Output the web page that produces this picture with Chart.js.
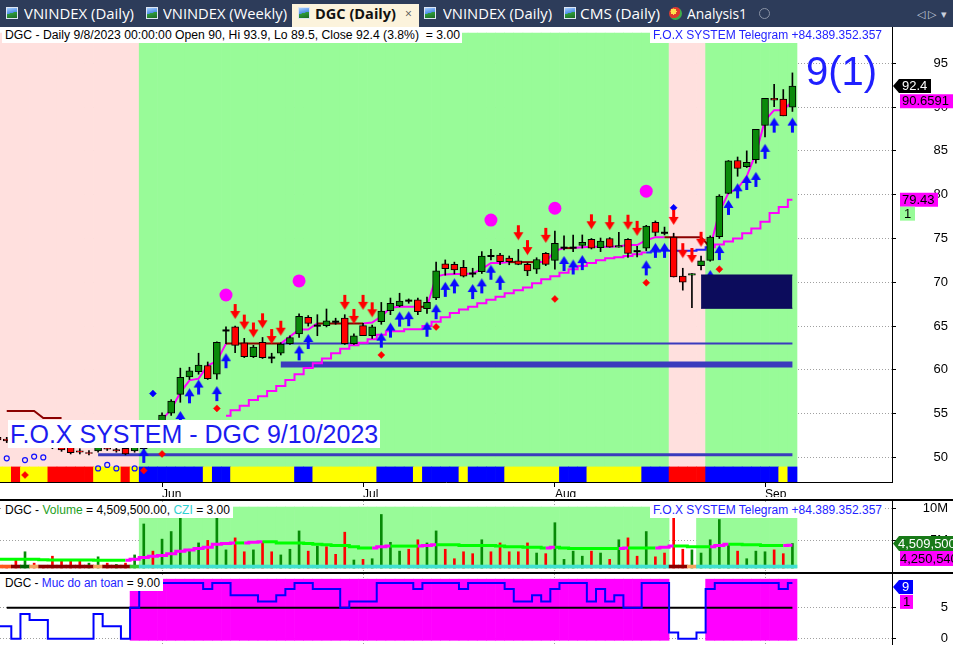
<!DOCTYPE html>
<html lang="en"><head><meta charset="utf-8"><title>DGC (Daily)</title>
<script src="https://cdn.jsdelivr.net/npm/chart.js@4.4.1/dist/chart.umd.min.js"></script>
<style>
html,body{margin:0;padding:0;}
body{width:953px;height:645px;overflow:hidden;background:#fff;position:relative;font-family:"Liberation Sans",Arial,sans-serif;}
#tabbar{position:absolute;left:0;top:0;width:953px;height:27px;background:#2d3c5a;}
.tab{position:absolute;top:5px;height:18px;line-height:18px;color:#fff;font-size:14px;font-family:"Open Sans","Liberation Sans",Arial,sans-serif;white-space:nowrap;}
.ico{position:absolute;top:7px;width:12px;height:12px;box-sizing:border-box;border:1px solid #dde6f3;background:linear-gradient(165deg,#a8d0ff 0%,#4d8ee8 48%,#2e9b3b 50%,#1c6a24 100%);}
#active{position:absolute;left:292px;top:4px;width:127px;height:23px;background:#fcf3dc;}
.box{position:absolute;white-space:nowrap;background:#fff;font-size:12px;line-height:15px;height:15px;box-sizing:border-box;padding-left:3px;}
.fit{display:inline-block;transform-origin:0 50%;}
canvas{position:absolute;left:0;}
.sep{position:absolute;left:0;width:953px;height:2px;background:#000;}
</style></head><body>
<div id="tabbar">
 <div class="ico" style="left:6px"></div><div class="tab" style="left:24px"><span class="fit" data-w="110">VNINDEX (Daily)</span></div>
 <div class="ico" style="left:146px"></div><div class="tab" style="left:163px"><span class="fit" data-w="124">VNINDEX (Weekly)</span></div>
 <div id="active"></div>
 <div class="ico" style="left:298px"></div><div class="tab" style="left:315px;color:#111;font-weight:bold"><span class="fit" data-w="81">DGC (Daily)</span></div>
 <div class="tab" style="left:405px;color:#555;font-size:12px">×</div>
 <div class="ico" style="left:424px"></div><div class="tab" style="left:443px"><span class="fit" data-w="109">VNINDEX (Daily)</span></div>
 <div class="ico" style="left:564px"></div><div class="tab" style="left:580px"><span class="fit" data-w="80">CMS (Daily)</span></div>
 <div style="position:absolute;left:669px;top:7px;width:13px;height:13px;border-radius:50%;background:radial-gradient(circle at 35% 35%,#ffe14d 0 25%,#e03a2f 26% 55%,#3fae49 56%)"></div>
 <div class="tab" style="left:687px"><span class="fit" data-w="60">Analysis1</span></div>
 <div style="position:absolute;left:759px;top:8px;width:9px;height:9px;border:1.5px solid #8a93a5;border-radius:50%"></div>
 <div class="tab" style="left:917px;color:#c8cfdc;font-size:11px">◁ ▷</div>
 <div class="tab" style="left:941px;color:#c8cfdc;font-size:11px">▾</div>
</div>

<canvas id="cMain" width="953" height="470" style="top:27px"></canvas>
<div class="sep" style="top:499px"></div>
<canvas id="cVol" width="953" height="71" style="top:501px"></canvas>
<div class="sep" style="top:572px"></div>
<canvas id="cSafe" width="953" height="71" style="top:574px"></canvas>

<div class="box" style="left:2px;top:28px;width:460px"><span class="fit" id="tMain" data-w="455"></span></div>
<div class="box" style="left:650px;top:28px;width:235px;color:#2323ff"><span class="fit" data-w="229">F.O.X SYSTEM Telegram +84.389.352.357</span></div>
<div id="bigNum" style="position:absolute;left:806px;top:51px;font-size:40px;line-height:40px;color:#1f1fff;white-space:nowrap"></div>
<div class="box" style="left:8px;top:420px;width:372px;height:28px;line-height:28px;font-size:25px;color:#1c1cf0;padding-left:2px">F.O.X SYSTEM - DGC 9/10/2023</div>
<div class="box" style="left:2px;top:503px;width:231px"><span class="fit" id="tVol" data-w="225"></span></div>
<div class="box" style="left:650px;top:503px;width:235px;color:#2323ff"><span class="fit" data-w="229">F.O.X SYSTEM Telegram +84.389.352.357</span></div>
<div class="box" style="left:2px;top:576px;width:161px"><span class="fit" id="tSafe" data-w="155"></span></div>

<script>
// ---------------- DATA ----------------
const dates = [
'2023-05-08','2023-05-09','2023-05-10','2023-05-11','2023-05-12','2023-05-15','2023-05-16','2023-05-17','2023-05-18','2023-05-19','2023-05-22','2023-05-23','2023-05-24','2023-05-25','2023-05-26','2023-05-29','2023-05-30','2023-05-31',
'2023-06-01','2023-06-02','2023-06-05','2023-06-06','2023-06-07','2023-06-08','2023-06-09','2023-06-12','2023-06-13','2023-06-14','2023-06-15','2023-06-16','2023-06-19','2023-06-20','2023-06-21','2023-06-22','2023-06-23','2023-06-26','2023-06-27','2023-06-28','2023-06-29','2023-06-30',
'2023-07-03','2023-07-04','2023-07-05','2023-07-06','2023-07-07','2023-07-10','2023-07-11','2023-07-12','2023-07-13','2023-07-14','2023-07-17','2023-07-18','2023-07-19','2023-07-20','2023-07-21','2023-07-24','2023-07-25','2023-07-26','2023-07-27','2023-07-28','2023-07-31',
'2023-08-01','2023-08-02','2023-08-03','2023-08-04','2023-08-07','2023-08-08','2023-08-09','2023-08-10','2023-08-11','2023-08-14','2023-08-15','2023-08-16','2023-08-17','2023-08-18','2023-08-21','2023-08-22','2023-08-23','2023-08-24','2023-08-25','2023-08-28','2023-08-29','2023-08-30','2023-08-31',
'2023-09-05','2023-09-06','2023-09-07','2023-09-08'];

const opens = [52.3,52.1,51.9,51.6,52.2,51.8,51.6,51.5,51.2,50.75, 50.55,50.75,51.05,50.9,51.05,50.75,51.0,52.3,53.2,55.05,
 57.2,59.2,59.8,60.5,59.5,64.5,64.9,63.1,61.5,63.15, 61.4,61.9,63.0,64.1,66.0,65.05,65.05,65.5,65.9,63.0,
 65.05,63.9,65.5,66.75,67.3,67.9,68.0,67.0,68.2,72.1, 72.05,71.7,71.0,71.2,73.0,73.1,72.75,72.45,72.05,71.5,
 73.3,72.5,73.95,73.95,74.2,74.9,73.95,75.0,74.0,74.9, 73.55,73.9,76.85,75.65,75.15,70.7,70.8,71.9,72.5,75.2,
 80.15,83.9,83.2,84.0,87.9,91.0,90.9,90.0];
const highs = [52.5,52.3,52.4,52.6,52.4,52.0,51.8,51.7,51.4,51.0, 50.8,51.4,51.3,51.1,51.2,51.4,51.6,52.6,55.1,56.6,
 60.2,60.3,61.9,60.9,63.2,64.9,65.0,63.6,62.8,63.7, 61.9,63.1,63.9,66.4,66.2,66.3,66.95,65.9,66.3,64.1,
 65.3,65.1,67.7,68.2,68.75,68.1,68.2,68.3,72.3,72.55, 72.3,72.5,71.6,73.5,73.75,73.3,73.0,73.75,72.2,72.8,
 73.4,75.85,75.3,75.4,75.4,75.0,75.05,75.1,75.7,75.0, 74.1,76.5,77.0,76.3,75.6,71.6,71.0,73.0,75.3,80.0,
 83.9,84.3,85.0,87.45,91.0,92.6,92.0,93.9];
const lows = [51.8,51.7,51.5,51.5,51.6,51.3,51.0,50.7,50.4,50.4, 50.3,50.6,50.8,50.6,50.3,50.6,49.5,51.4,52.9,54.8,
 56.3,58.9,59.5,58.9,58.95,63.0,61.96,61.4,61.4,61.3, 60.8,61.7,62.9,63.7,65.0,63.9,64.9,65.2,62.9,62.9,
 63.9,63.6,65.2,66.3,67.2,67.6,66.3,66.45,68.0,70.8, 70.95,70.6,70.6,71.0,72.55,72.0,72.0,72.0,70.75,71.0,
 71.9,71.5,73.7,73.5,73.9,73.8,73.5,74.0,74.0,72.85, 72.9,73.6,75.3,75.4,70.6,69.1,67.1,71.4,72.4,75.0,
 80.1,82.1,83.1,83.6,86.6,90.05,89.0,89.5];
const closes = [52.0,51.9,51.7,52.3,51.8,51.5,51.2,50.85,50.55,50.6, 50.45,51.2,50.95,50.75,50.4,51.2,51.4,51.8,54.85,56.45,
 59.15,59.9,60.55,59.0,63.15,64.5,62.8,61.5,62.6,61.4, 61.4,62.95,63.7,66.1,65.3,65.05,65.6,65.5,63.0,63.9,
 63.9,64.9,66.7,67.6,67.85,67.9,66.65,67.7,71.3,71.55, 71.4,70.7,71.0,73.0,73.0,72.35,72.35,72.05,71.3,72.6,
 72.05,74.45,73.95,73.95,74.55,73.9,74.7,74.0,74.2,73.3, 73.55,76.4,75.7,75.65,70.6,70.0,71.0,72.45,75.15,79.85,
 83.85,83.0,83.7,87.45,91.0,90.8,89.0,92.4];

// fast trailing line (magenta / brown) and slow staircase stop
const trail = [null,55.3,55.3,55.3,55.3,54.5,54.5,54.5,null,null, null,null,null,null,null,null,null,null,54.3,55.5,
 57.4,58.8,59.0,60.5,61.0,63.0,63.0,63.0,63.0,63.0, 63.0,63.0,63.8,64.6,64.6,65.3,65.3,65.3,65.3,65.3,
 65.3,65.4,66.1,67.1,67.2,67.2,67.2,67.2,70.65,70.9, 70.95,70.95,71.0,71.5,72.2,72.2,72.3,72.3,72.3,72.3,
 72.3,73.6,73.9,73.9,74.0,74.05,74.05,74.05,74.1,74.25, 74.25,74.8,75.15,75.15,75.15,75.15,75.15,75.15,74.0,78.0,
 80.2,80.7,82.1,84.7,88.5,89.65,89.65,90.6591];
const trailStateRuns = [['b',8],['m',17],['b',6],['m',4],['b',6],['m',5],['b',2],['m',8],['b',3],['m',3],['b',2],['m',9],['b',5],['m',8],['b',1],['m',1]];
const slowStop = [null,null,null,null,null,null,null,null,null,null, null,null,null,null,null,null,null,null,null,null,
 null,null,null,null,null,54.75,55.4,55.9,56.55,57.0, 57.6,58.15,58.85,59.5,60.2,60.75,61.3,61.9,62.4,62.8,
 63.1,63.5,64.0,64.4,64.4,64.65,64.65,65.0,65.5,66.0, 66.5,66.9,67.2,67.6,68.0,68.35,68.75,69.1,69.4,69.9,
 70.35,70.7,71.1,71.5,71.85,72.2,72.5,72.75,72.85,73.0, 73.2,73.4,73.5,73.6,73.6,73.6,73.6,73.7,74.0,74.3,
 74.65,75.0,75.6,76.15,76.9,77.9,78.6,79.43];
const slowStateRuns = [['m',71],['b',7],['m',10]];

// background zones and bottom ribbon states
const zoneRuns = [['P',16],['G',58],['P',4],['G',10]];
const ribbonRuns = [['Y',2],['R',1],['Y',3],['R',5],['Y',3],['R',1],['Y',1],['B',7],['Y',1],['B',2],['Y',7],['B',2],['Y',7],['B',4],['Y',1],['B',4],['Y',1],['B',4],['Y',6],['B',3],['Y',6],['B',3],['R',4],['B',8],['Y',1],['B',1]];

// support / resistance levels
const levelPrice = [63.0, 60.6, 50.3];
const levelFrom  = [31, 31, 11];
const boxFrom = 77, boxTo = 87, boxHigh = 70.83, boxLow = 67.03;

// signals [barIndex, price]
const buyArrows = [[16,51.1],[20,55.3],[21,57.9],[22,58.9],[24,58.15],[25,61.9],[33,62.8],[34,64.1],[42,64.25],[43,65.4],[44,66.65],[45,66.7],[47,65.5],[48,67.5],[49,70.05],[50,70.45],[52,69.8],[53,70.45],[54,72.0],[55,70.85],[62,73.0],[63,72.6],[64,73.1],[71,72.5],[72,74.5],[73,74.5],[78,71.4],[79,74.25],[80,79.4],[81,81.3],[82,82.25],[83,82.6],[84,85.8],[85,88.8],[87,88.8]];
const sellArrows = [[26,65.8],[27,64.6],[28,63.7],[29,64.75],[30,62.95],[31,63.9],[38,66.85],[39,65.25],[40,66.85],[41,66.0],[57,74.8],[58,73.1],[60,74.5],[65,76.05],[67,75.95],[69,76.0],[70,75.3],[74,76.55],[75,72.75],[76,72.2],[77,74.05]];
const redDots = [[3,48.0],[16,48.5],[18,50.4],[24,55.6],[42,61.7],[48,64.9],[61,68.1],[71,69.95],[79,71.5]];
const blueDots = [[17,57.3],[74,78.5]];
const pinkCircles = [[25,68.55],[33,70.15],[54,77.1],[61,78.45],[71,80.4]];
const openCircles = [[1,49.9],[3,49.7],[4,50.1],[5,50.0],[11,48.75],[12,49.15],[13,48.75],[15,48.75]];

// volume (millions)
const volumeM = [1.5,1.0,1.9,3.2,1.4,1.0,2.5,1.7,1.7,1.9, 1.4,2.4,1.4,1.2,1.4,2.7,7.6,3.3,5.2,6.4,
 8.5,3.6,4.6,5.0,8.7,3.5,5.4,3.2,3.5,4.8, 3.2,2.7,3.6,6.5,3.3,4.1,4.0,2.8,6.3,1.9,
 2.0,2.1,9.1,4.7,3.3,3.6,5.1,4.6,6.5,3.6, 2.1,3.2,2.9,5.1,3.2,4.6,3.2,3.2,4.6,3.0,
 2.9,7.8,2.0,3.3,2.5,3.3,3.0,2.0,5.1,5.4, 2.5,6.4,2.4,3.0,8.7,3.6,3.5,3.0,5.1,8.3,
 4.3,3.3,2.1,3.3,3.2,3.5,2.9,4.5095];
const volDir = 'rrrgrrrrrr'+'ggrgrggrgg'+'gggrggrrgr'+'rgggrgrrrg'+'rggggrrggr'+'rrrgrrrrrg'+'rggggrgrgr'+'rgrrrrgggg'+'grgggrrg';
const volMA = [2.0,2.0,2.0,2.0,2.0,1.95,1.9,1.9,1.9,1.9, 1.9,1.85,1.85,1.85,1.85,2.0,2.3,2.5,2.6,2.9,
 3.3,3.5,3.7,3.9,4.4,4.5,4.6,4.6,4.7,4.8, 4.8,4.6,4.6,4.6,4.5,4.4,4.3,4.2,4.2,4.0,
 3.8,3.8,4.0,4.1,4.1,4.1,4.1,4.2,4.3,4.3, 4.3,4.2,4.2,4.2,4.2,4.1,4.0,4.0,3.9,3.9,
 3.8,3.9,3.8,3.7,3.7,3.7,3.7,3.7,3.7,3.8, 3.8,3.8,3.8,3.9,4.1,4.1,4.0,4.0,4.0,4.2,
 4.4,4.4,4.3,4.3,4.2,4.2,4.2,4.25054];
const volZoneRuns = [['-',16],['H',58],['-',3],['L',11]];
const volZoneLevel = {H:10.28, L:8.7};
const czStripRuns = [['O',2],['D',1],['G',1],['S',1],['D',6],['S',1],['D',3],['L',1],['C',58],['D',2],['S',1],['C',11]];

// "Muc do an toan" (safety level)
const safety = [2,2,0,4,3,3,0,0,0,0, 0,4,2,2,0,5,9,9,9,9, 9,9,9,8,9,9,7,7,7,6, 6,7,8,9,9,8,8,8,5,6,
 6,6,9,9,9,9,8,9,9,9, 9,8,9,9,9,9,8,6,6,7, 6,8,9,9,9,6,8,6,7,5, 5,9,9,9,1,0,0,1,8,9, 9,9,9,9,9,9,8,9];
const safeThreshold = 5;

// ticks
const priceTicks = [50,55,60,65,70,75,80,85,90,95];
const volTicks = [5,10];
const safeTicks = [0,5];
const monthTicks = ['Jun','Jul','Aug','Sep'];

// ---------------- HELPERS ----------------
const expand = runs => runs.flatMap(([c,n]) => Array(n).fill(c));
const zone = expand(zoneRuns), ribbon = expand(ribbonRuns), trailState = expand(trailStateRuns),
      slowState = expand(slowStateRuns), volZone = expand(volZoneRuns), czStrip = expand(czStripRuns);
const N = dates.length;
const idx = dates.map((_, i) => i);
const MONTHS = ['Jan','Feb','Mar','Apr','May','Jun','Jul','Aug','Sep','Oct','Nov','Dec'];
const monthIdx = monthTicks.map(m => dates.findIndex(d => MONTHS[+d.slice(5,7)-1] === m));
const pts = arr => arr.map(([x,y]) => ({x, y}));
const isDoji = i => Math.abs(closes[i]-opens[i]) < 0.01;
const fmtInt = v => Math.round(v).toLocaleString('en-US');

// layout constants (pixel calibration of the plot areas)
const X_MIN = 0.263, X_MAX = 97.9;
const P_MIN = 47.2, P_MAX = 99.14, BAND_TOP = 98.46, RIBBON_TOP = 48.92;
const V_MIN = 0, V_MAX = 11.234, V_BASE = 0.63, STRIP_TOP = 1.1;
const S_MIN = -1.016, S_MAX = 10.435, S_LO = -0.26, S_HI = 9.6;

const ZONE_COL = {P:'#ffe0de', G:'#98fb98'};
const RIB_COL = {Y:'#ffff00', R:'#ff0000', B:'#0000ff'};
const STRIP_COL = {O:'#ff5a1e', D:'#8b0000', G:'#006400', S:'#f4a460', L:'#32cd32', C:'#40e0d0'};
const MAG = '#ff00ff', BROWN = '#8b0000', NAVY = '#0c0c5c', LEVEL = '#3b3bbd';

function arrowImg(color, up) {
  const c = document.createElement('canvas'); c.width = 11; c.height = 32;
  const g = c.getContext('2d'); g.fillStyle = color; g.beginPath();
  if (up) { g.moveTo(5.5,16); g.lineTo(10.5,24); g.lineTo(7,24); g.lineTo(7,31); g.lineTo(4,31); g.lineTo(4,24); g.lineTo(0.5,24); }
  else    { g.moveTo(5.5,16); g.lineTo(10.5,8);  g.lineTo(7,8);  g.lineTo(7,1);  g.lineTo(4,1);  g.lineTo(4,8);  g.lineTo(0.5,8); }
  g.closePath(); g.fill(); return c;
}
const upImg = arrowImg('#0a0aff', true), downImg = arrowImg('#ff0000', false);

function drawTag(ctx, t) {
  ctx.save();
  ctx.fillStyle = t.bg; ctx.beginPath();
  const h2 = t.h/2;
  if (t.arrow) { ctx.moveTo(t.x, t.y); ctx.lineTo(t.x+6, t.y-h2); ctx.lineTo(t.x+t.w, t.y-h2); ctx.lineTo(t.x+t.w, t.y+h2); ctx.lineTo(t.x+6, t.y+h2); ctx.closePath(); }
  else ctx.rect(t.x, t.y-h2, t.w, t.h);
  ctx.fill();
  ctx.fillStyle = t.fg; ctx.font = '13px "Liberation Sans", Arial, sans-serif';
  ctx.textBaseline = 'middle'; ctx.textAlign = 'left';
  ctx.fillText(t.text, t.tx, t.y + 0.5);
  ctx.restore();
}
const tagPlugin = fn => ({ id:'tags', afterDraw(chart) { fn(chart).forEach(t => drawTag(chart.ctx, t)); } });

Chart.defaults.font.family = '"Liberation Sans", Arial, sans-serif';
Chart.defaults.font.size = 13;
Chart.defaults.color = '#000';

function yAxis(min, max, ticks, fmt) {
  return {
    type:'linear', position:'right', min, max,
    afterBuildTicks: s => { s.ticks = ticks.map(v => ({value:v})); },
    afterFit: s => { s.width = 56; s.paddingTop = 0; s.paddingBottom = 0; },
    ticks: { callback: v => fmt(v), crossAlign:'far', padding:0, autoSkip:false, font:{size:13} },
    grid: { color:'#a0a0a0', lineWidth:1, drawTicks:true, tickLength:4, tickColor:'#000', tickWidth:1 },
    border: { display:true, color:'#000', width:1, dash:[1,2] }
  };
}
function xAxis(show) {
  return {
    type:'linear', min:X_MIN, max:X_MAX, offset:false,
    afterBuildTicks: s => { s.ticks = monthIdx.map(v => ({value:v})); },
    afterFit: s => { s.height = show ? 15 : 0; s.paddingLeft = 0; s.paddingRight = 0; },
    ticks: { display:show, autoSkip:false, maxRotation:0, minRotation:0, align:'start', padding:0, callback:(v,i) => monthTicks[i], font:{size:12} },
    grid: { display:true, offset:false, drawOnChartArea:!show, drawTicks:show, tickLength:5, tickColor:'#000', color:'#a0a0a0' },
    border: { display:show, color:'#000', width:1, dash:[1,2] }
  };
}
function baseOptions(scales) {
  return {
    responsive:false, animation:false, devicePixelRatio:1, events:[],
    layout:{ autoPadding:false, padding:{ left:0, right:5, top:0, bottom:0 } },
    plugins:{ legend:{ display:false }, tooltip:{ enabled:false } },
    scales
  };
}
const fullBar = { grouped:false, barPercentage:1, categoryPercentage:1, borderWidth:0 };
const marker = (data, order, extra) => Object.assign({ type:'line', order, showLine:false, data, pointRadius:5, pointHoverRadius:0 }, extra);

// ---------------- MAIN PRICE PANE ----------------
const mainDatasets = [
  Object.assign({ type:'bar', order:50, data: idx.map(i => ({x:i, y:[P_MIN, BAND_TOP]})), backgroundColor: idx.map(i => ZONE_COL[zone[i]]) }, fullBar),
  Object.assign({ type:'bar', order:49, data: idx.map(i => ({x:i, y:[P_MIN, RIBBON_TOP]})), backgroundColor: idx.map(i => RIB_COL[ribbon[i]]) }, fullBar),
  ...levelPrice.map((p, k) => ({ type:'line', order:40, data:[{x:levelFrom[k], y:p}, {x:N-1, y:p}], borderColor:LEVEL, borderWidth:[2,6,3][k], pointRadius:0 })),
  { type:'line', order:35, data: idx.map(i => ({x:i, y:slowStop[i]})), stepped:'middle', borderWidth:2, pointRadius:0, borderColor:MAG,
    segment:{ borderColor: c => slowState[c.p0DataIndex] === 'b' ? '#2020ff' : MAG } },
  { type:'line', order:34, data: idx.map(i => ({x:i, y:trail[i]})), borderWidth:2, pointRadius:0, borderColor:MAG,
    segment:{ borderColor: c => (trail[c.p1DataIndex] > trail[c.p0DataIndex] + 0.05) ? MAG : (trailState[c.p0DataIndex] === 'b' ? BROWN : MAG) } },
  { type:'bar', order:30, grouped:false, barThickness:1, borderWidth:0, backgroundColor:'#000', data: idx.map(i => ({x:i, y:[lows[i], highs[i]]})) },
  { type:'bar', order:29, grouped:false, barThickness:7, borderWidth:1, borderColor:'#000', borderSkipped:false,
    data: idx.map(i => ({x:i, y: isDoji(i) ? null : [opens[i], closes[i]]})),
    backgroundColor: idx.map(i => closes[i] >= opens[i] ? '#098a09' : '#ff0000') },
  marker(idx.filter(isDoji).map(i => ({x:i, y:opens[i]})), 28, { pointStyle:'line', pointRadius:3.5, pointBorderWidth:2, pointBorderColor:'#000' }),
  marker(pts(openCircles), 20, { pointStyle:'circle', pointRadius:2.5, pointBorderWidth:1.2, pointBorderColor:'#1010ff', pointBackgroundColor:'rgba(255,255,255,0)' }),
  marker(pts(redDots), 19, { pointStyle:'rectRot', pointRadius:3.5, pointBorderWidth:0.5, pointBorderColor:'#ff0000', pointBackgroundColor:'#ff0000' }),
  marker(pts(blueDots), 19, { pointStyle:'rectRot', pointRadius:3.5, pointBorderWidth:0.5, pointBorderColor:'#0000ff', pointBackgroundColor:'#0000ff' }),
  marker(pts(pinkCircles), 18, { pointStyle:'circle', pointRadius:6.5, pointBorderWidth:0, pointBorderColor:MAG, pointBackgroundColor:MAG }),
  marker(pts(buyArrows), 17, { pointStyle:upImg }),
  marker(pts(sellArrows), 17, { pointStyle:downImg }),
  { type:'line', order:5, data:[{x:boxFrom, y:boxHigh}, {x:boxTo, y:boxHigh}], borderColor:NAVY, borderWidth:1, pointRadius:0, fill:false },
  { type:'line', order:5, data:[{x:boxFrom, y:boxLow}, {x:boxTo, y:boxLow}], borderColor:NAVY, borderWidth:1, pointRadius:0, fill:'-1', backgroundColor:NAVY }
];
new Chart(document.getElementById('cMain'), {
  type:'bar',
  data:{ datasets: mainDatasets },
  options: baseOptions({ x: xAxis(true), y: yAxis(P_MIN, P_MAX, priceTicks, v => String(v)) }),
  plugins:[ tagPlugin(chart => {
    const y = chart.scales.y;
    const yc = y.getPixelForValue(closes[N-1]);
    const yt = y.getPixelForValue(trail[N-1]);
    const ys = y.getPixelForValue(slowStop[N-1]);
    return [
      { x:893, y:yc, w:38, h:14, bg:'#000', fg:'#fff', text:String(closes[N-1]), tx:902, arrow:true },
      { x:900, y:yt, w:53, h:14, bg:MAG, fg:'#000', text:trail[N-1].toFixed(4), tx:902 },
      { x:900, y:ys, w:38, h:14, bg:MAG, fg:'#000', text:slowStop[N-1].toFixed(2), tx:902 },
      { x:900, y:ys+14, w:15, h:14, bg:'#98fb98', fg:'#000', text:'1', tx:904 }
    ];
  }) ]
});

// ---------------- VOLUME PANE ----------------
new Chart(document.getElementById('cVol'), {
  type:'bar',
  data:{ datasets:[
    Object.assign({ type:'bar', order:30, data: idx.map(i => ({x:i, y: volZone[i] === '-' ? null : [V_BASE, volZoneLevel[volZone[i]]]})), backgroundColor:'#98fb98' }, fullBar),
    { type:'bar', order:20, grouped:false, barThickness:2, borderWidth:0, data: idx.map(i => ({x:i, y:[V_BASE, volumeM[i]]})),
      backgroundColor: idx.map(i => volDir[i] === 'g' ? '#078a07' : '#ff0000') },
    Object.assign({ type:'bar', order:10, data: idx.map(i => ({x:i, y:[V_BASE, STRIP_TOP]})), backgroundColor: idx.map(i => STRIP_COL[czStrip[i]]) }, fullBar),
    { type:'line', order:5, data: idx.map(i => ({x:i, y:volMA[i]})), stepped:'middle', borderWidth:3, pointRadius:0, borderColor:'#00ff00',
      segment:{ borderColor: c => volMA[c.p1DataIndex] > volMA[c.p0DataIndex] ? MAG : '#00ff00' } }
  ]},
  options: baseOptions({ x: xAxis(false), y: yAxis(V_MIN, V_MAX, volTicks, v => v + 'M') }),
  plugins:[ tagPlugin(chart => {
    const yv = chart.scales.y.getPixelForValue(volumeM[N-1]);
    return [
      { x:893, y:yv, w:62, h:15, bg:'#187a18', fg:'#fff', text:fmtInt(volumeM[N-1]*1e6), tx:898, arrow:true },
      { x:900, y:yv+15, w:55, h:15, bg:MAG, fg:'#000', text:fmtInt(volMA[N-1]*1e6), tx:900 }
    ];
  }) ]
});

// ---------------- SAFETY PANE ----------------
new Chart(document.getElementById('cSafe'), {
  type:'bar',
  data:{ datasets:[
    Object.assign({ type:'bar', order:30, data: idx.map(i => ({x:i, y: safety[i] >= safeThreshold ? [S_LO, S_HI] : null})), backgroundColor:MAG }, fullBar),
    { type:'line', order:20, data: idx.filter(i => i >= 1).map(i => ({x:i, y:safeThreshold})), borderColor:'#000', borderWidth:2, pointRadius:0 },
    { type:'line', order:10, data: idx.map(i => ({x:i, y:safety[i]})), stepped:'middle', borderColor:'#0000ff', borderWidth:2, pointRadius:0 }
  ]},
  options: baseOptions({ x: xAxis(false), y: yAxis(S_MIN, S_MAX, safeTicks, v => String(v)) }),
  plugins:[ tagPlugin(chart => {
    const y9 = chart.scales.y.getPixelForValue(safety[N-1]) + 4;
    return [
      { x:893, y:y9, w:20, h:14, bg:'#0000ff', fg:'#fff', text:String(safety[N-1]), tx:902, arrow:true },
      { x:900, y:y9+15, w:13, h:14, bg:MAG, fg:'#000', text:'1', tx:903 }
    ];
  }) ]
});

// ---------------- TEXTS ----------------
const last = N-1;
const [yy, mm, dd] = dates[last].split('-');
const pct = ((closes[last]/closes[last-1] - 1) * 100).toFixed(1);
document.getElementById('tMain').textContent =
  `DGC - Daily ${+mm}/${+dd}/${yy} 00:00:00 Open ${opens[last]}, Hi ${highs[last]}, Lo ${lows[last]}, Close ${closes[last]} (${pct}%)\u00a0 = 3.00`;
document.getElementById('tVol').innerHTML =
  `DGC - <span style="color:#1ea01e">Volume</span> = ${fmtInt(volumeM[last]*1e6)}.00, <span style="color:#2fcfcf">CZI</span> = 3.00`;
document.getElementById('tSafe').innerHTML =
  `DGC - <span style="color:#2323ff">Muc do an toan</span> = ${safety[last].toFixed(2)}`;
document.getElementById('bigNum').textContent = `${safety[last]}(1)`;

function fitAll() {
  document.querySelectorAll('.fit').forEach(el => {
    el.style.transform = 'none';
    const w = el.getBoundingClientRect().width;
    if (w > 0) el.style.transform = `scaleX(${(+el.dataset.w) / w})`;
  });
}
fitAll();
if (document.fonts && document.fonts.ready) document.fonts.ready.then(fitAll);
</script>
</body></html>
